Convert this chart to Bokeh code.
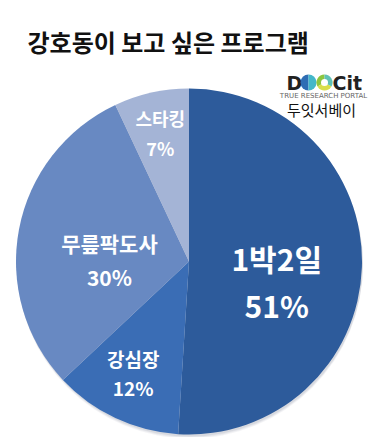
import numpy as np
from bokeh.plotting import figure
from bokeh.models import Range1d, ColumnDataSource
from bokeh.core.properties import value
from bokeh.embed import file_html
from bokeh.resources import INLINE

# ---- data ----
title = "강호동이 보고 싶은 프로그램"
programs = ["1박2일", "강심장", "무릎팍도사", "스타킹"]
shares = [51, 12, 30, 7]
brand = "두잇서베이"
logo_tag = "TRUE RESEARCH PORTAL"

# ---- style / layout ----
colors = ["#2D5B9B", "#3A6DB5", "#6889C2", "#A4B4D6"]
W, H = 380, 437
CX, CY, R = 188.5, 261.0, 173.0
label_rfrac = [0.52, 0.72, 0.46, 0.76]
label_nudge = [11.0, 1.4, -10.0, 0.0]
label_size = [30, 19, 21, 18]
label_gap = [47, 29, 34, 30]
KFONT = "Noto Sans CJK KR"

p = figure(width=W, height=H, x_range=Range1d(0, W), y_range=Range1d(H, 0),
           x_axis_type=None, y_axis_type=None, toolbar_location=None,
           output_backend="svg", min_border=0, outline_line_color=None,
           background_fill_color="white", border_fill_color="white")
p.grid.visible = False

vals = np.array(shares, dtype=float)
frac = vals / vals.sum()
cum_end = np.cumsum(frac)
cum_start = cum_end - frac
start_ang = np.deg2rad(90 - cum_end * 360)
end_ang = np.deg2rad(90 - cum_start * 360)

# soft shadow
for k, a in [(4, 0.05), (3, 0.06), (2, 0.08)]:
    p.circle(x=CX + 1, y=CY + k, radius=R, fill_color="#203050", fill_alpha=a, line_color=None)

src = ColumnDataSource(dict(start=start_ang, end=end_ang, color=colors))
p.wedge(x=CX, y=CY, radius=R, start_angle="start", end_angle="end",
        direction="anticlock", fill_color="color", line_color=None, source=src)

mid = np.deg2rad((cum_start + cum_end) / 2 * 360 + np.array(label_nudge))
lx = CX + R * np.array(label_rfrac) * np.sin(mid)
ly = CY - R * np.array(label_rfrac) * np.cos(mid)
gap = np.array(label_gap, dtype=float)
pct = [f"{v}%" for v in shares]
lsrc = ColumnDataSource(dict(
    x=np.concatenate([lx, lx]),
    y=np.concatenate([ly - gap / 2, ly + gap / 2]),
    t=programs + pct,
    fs=[f"{s}px" for s in label_size] * 2,
))
p.text(x="x", y="y", text="t", source=lsrc, text_font=value(KFONT),
       text_font_size="fs", text_font_style="bold", text_color="white",
       text_align="center", text_baseline="middle")

# title
p.text(x=[27], y=[41], text=[title], text_font=value(KFONT), text_font_size="24px",
       text_font_style="bold", text_color="#111111", text_align="left",
       text_baseline="middle")

# logo
p.text(x=[286], y=[82], text=["D"], text_font=value("DejaVu Sans"), text_font_size="19px",
       text_font_style="bold", text_color="#222222", text_align="left", text_baseline="middle")
p.wedge(x=[308, 308], y=[82, 82], radius=8, start_angle=[np.pi / 2, -np.pi / 2],
        end_angle=[3 * np.pi / 2, np.pi / 2], fill_color=["#2E6DB4", "#43B7C9"], line_color=None)
p.wedge(x=[324, 324, 324], y=[82, 82, 82], radius=8,
        start_angle=[np.pi / 2, 7 * np.pi / 6, 11 * np.pi / 6],
        end_angle=[7 * np.pi / 6, 11 * np.pi / 6, 5 * np.pi / 2],
        fill_color=["#8CC63F", "#D9DE4A", "#5FC1B5"], line_color=None)
p.circle(x=[324], y=[82], radius=3.5, fill_color="white", line_color=None)
p.text(x=[332], y=[82], text=["Cit"], text_font=value("DejaVu Sans"), text_font_size="19px",
       text_font_style="bold", text_color="#222222", text_align="left", text_baseline="middle")
p.text(x=[323], y=[95], text=[logo_tag], text_font=value("DejaVu Sans"), text_font_size="7px",
       text_color="#666666", text_align="center", text_baseline="middle")
p.text(x=[321], y=[109], text=[brand], text_font=value(KFONT), text_font_size="15px",
       text_color="#111111", text_align="center", text_baseline="middle")

open("out.html", "w").write(file_html(p, INLINE))
